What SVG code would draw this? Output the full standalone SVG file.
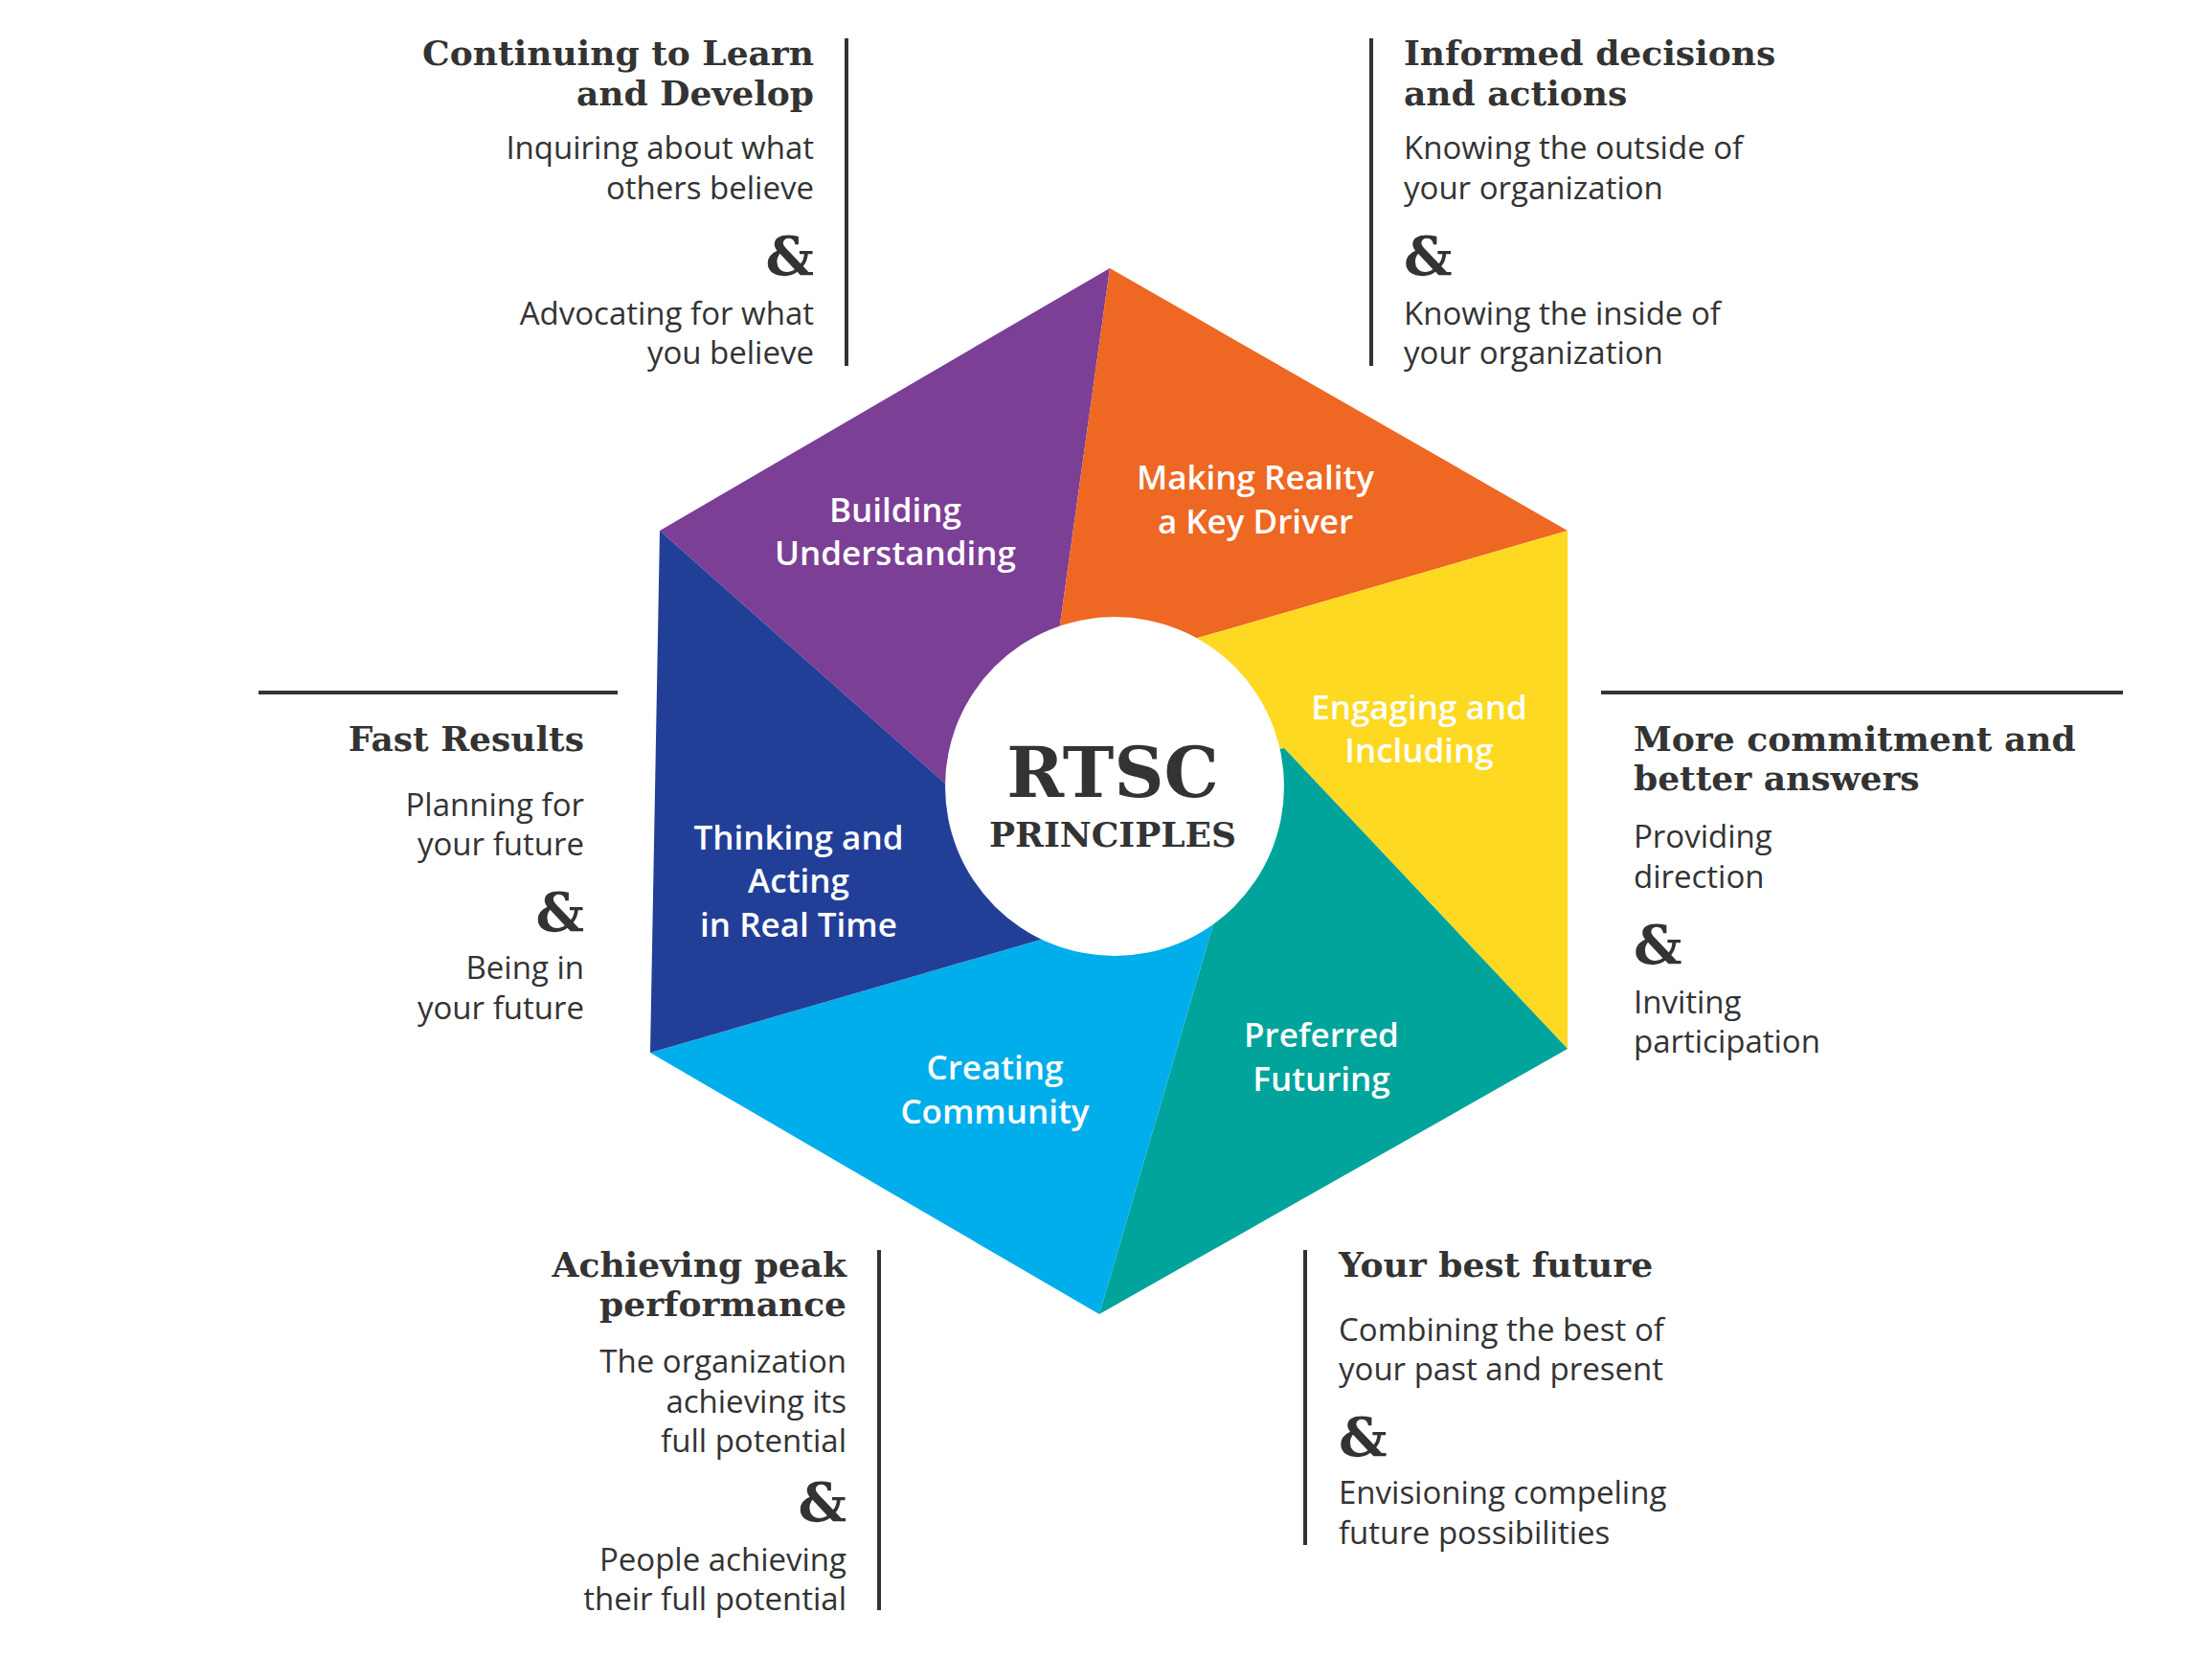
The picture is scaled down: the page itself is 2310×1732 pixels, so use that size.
<svg xmlns="http://www.w3.org/2000/svg" width="2310" height="1732" viewBox="0 0 2310 1732">
<style>
.h{font-family:"DejaVu Serif","Liberation Serif",serif;font-weight:bold;font-size:36px;fill:#333}
.b{font-family:"Open Sans","Liberation Sans",sans-serif;font-size:33px;fill:#333}
.amp{font-family:"DejaVu Serif","Liberation Serif",serif;font-weight:bold;font-size:56px;fill:#333}
.s{font-family:"Open Sans","Liberation Sans",sans-serif;font-weight:600;font-size:35px;fill:#fff;text-anchor:middle}
.r{text-anchor:end}
.ln{stroke:#333;stroke-width:4;fill:none}
</style>
<rect width="2310" height="1732" fill="#fff"/>
<g id="hexagon">
<polygon points="689,554 1159,280 1105,666 1164,821 987,818" fill="#7B3F96"/>
<polygon points="1159,280 1637,554 1237,670 1164,821 1105,666" fill="#EE6723"/>
<polygon points="1637,554 1637,1095 1341,781 1164,821 1237,670" fill="#FDD921"/>
<polygon points="1637,1095 1148,1372 1267,965 1164,821 1341,781" fill="#00A49B"/>
<polygon points="1148,1372 679,1099 1090,980 1164,821 1267,965" fill="#00AEEB"/>
<polygon points="679,1099 689,554 987,818 1164,821 1090,980" fill="#223F98"/>
<circle cx="1164" cy="821" r="177" fill="#fff"/>
</g>
<g id="segment-labels">
<text class="s" x="935" y="545">Building</text><text class="s" x="935" y="590">Understanding</text>
<text class="s" x="1311" y="511">Making Reality</text><text class="s" x="1311" y="557">a Key Driver</text>
<text class="s" x="1482" y="751">Engaging and</text><text class="s" x="1482" y="796">Including</text>
<text class="s" x="1380" y="1093">Preferred</text><text class="s" x="1380" y="1139">Futuring</text>
<text class="s" x="1039" y="1127">Creating</text><text class="s" x="1039" y="1173">Community</text>
<text class="s" x="834" y="887">Thinking and</text><text class="s" x="834" y="932">Acting</text><text class="s" x="834" y="978">in Real Time</text>
</g>
<g id="center">
<text x="1162" y="832" text-anchor="middle" style="font-family:'DejaVu Serif',serif;font-weight:bold;font-size:72px;fill:#333">RTSC</text>
<text x="1162" y="884" text-anchor="middle" style="font-family:'DejaVu Serif',serif;font-weight:bold;font-size:36px;fill:#333">PRINCIPLES</text>
</g>
<g id="connectors">
<line class="ln" x1="884" y1="40" x2="884" y2="382"/>
<line class="ln" x1="1432" y1="40" x2="1432" y2="382"/>
<line class="ln" x1="270" y1="723" x2="645" y2="723"/>
<line class="ln" x1="1672" y1="723" x2="2217" y2="723"/>
<line class="ln" x1="918" y1="1305" x2="918" y2="1681"/>
<line class="ln" x1="1363" y1="1305" x2="1363" y2="1613"/>
</g>
<g id="top-left">
<text class="h r" x="850" y="68">Continuing to Learn</text><text class="h r" x="850" y="110">and Develop</text>
<text class="b r" x="850" y="166">Inquiring about what</text><text class="b r" x="850" y="208">others believe</text>
<text class="amp r" x="850" y="287">&amp;</text>
<text class="b r" x="850" y="339">Advocating for what</text><text class="b r" x="850" y="380">you believe</text>
</g>
<g id="top-right">
<text class="h" x="1466" y="68">Informed decisions</text><text class="h" x="1466" y="110">and actions</text>
<text class="b" x="1466" y="166">Knowing the outside of</text><text class="b" x="1466" y="208">your organization</text>
<text class="amp" x="1466" y="287">&amp;</text>
<text class="b" x="1466" y="339">Knowing the inside of</text><text class="b" x="1466" y="380">your organization</text>
</g>
<g id="left">
<text class="h r" x="610" y="784">Fast Results</text>
<text class="b r" x="610" y="852">Planning for</text><text class="b r" x="610" y="893">your future</text>
<text class="amp r" x="610" y="972">&amp;</text>
<text class="b r" x="610" y="1022">Being in</text><text class="b r" x="610" y="1064">your future</text>
</g>
<g id="right">
<text class="h" x="1706" y="784">More commitment and</text><text class="h" x="1706" y="825">better answers</text>
<text class="b" x="1706" y="885">Providing</text><text class="b" x="1706" y="927">direction</text>
<text class="amp" x="1706" y="1006">&amp;</text>
<text class="b" x="1706" y="1058">Inviting</text><text class="b" x="1706" y="1099">participation</text>
</g>
<g id="bottom-left">
<text class="h r" x="884" y="1333">Achieving peak</text><text class="h r" x="884" y="1374">performance</text>
<text class="b r" x="884" y="1433">The organization</text><text class="b r" x="884" y="1475">achieving its</text><text class="b r" x="884" y="1516">full potential</text>
<text class="amp r" x="884" y="1588">&amp;</text>
<text class="b r" x="884" y="1640">People achieving</text><text class="b r" x="884" y="1681">their full potential</text>
</g>
<g id="bottom-right">
<text class="h" x="1398" y="1333">Your best future</text>
<text class="b" x="1398" y="1400">Combining the best of</text><text class="b" x="1398" y="1441">your past and present</text>
<text class="amp" x="1398" y="1520">&amp;</text>
<text class="b" x="1398" y="1570">Envisioning compeling</text><text class="b" x="1398" y="1612">future possibilities</text>
</g>
</svg>
